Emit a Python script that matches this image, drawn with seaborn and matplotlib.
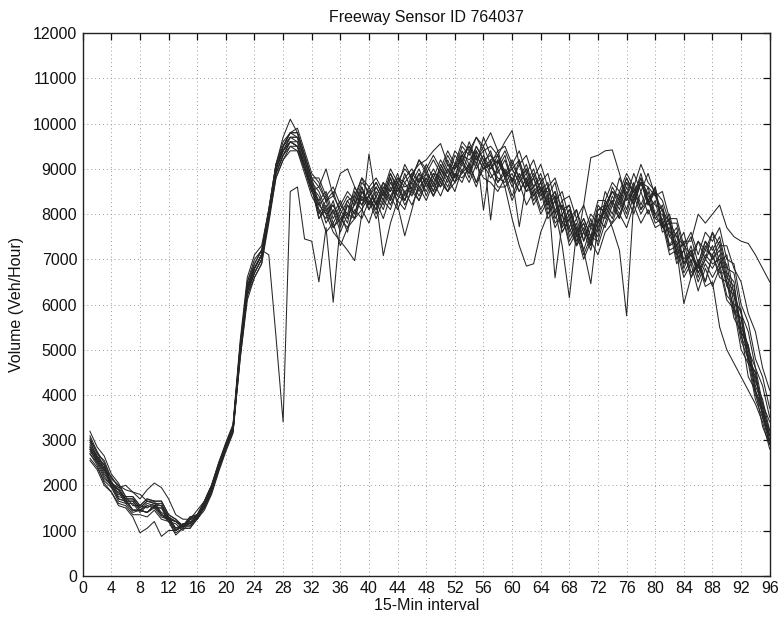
import matplotlib
matplotlib.use("Agg")
import matplotlib.pyplot as plt
import seaborn as sns
import pandas as pd

intervals = list(range(1, 97))

day_a = [3000, 2600, 2450, 2050, 1900, 1700, 1700, 1500,
         1650, 1600, 1550, 1300, 1200, 1100, 1250, 1350,
         1600, 1950, 2450, 2900, 3300, 5100, 6500, 6900,
         7200, 8100, 9100, 9500, 9800, 9800, 9300, 8800,
         8200, 8400, 7900, 8200, 8000, 8600, 8300, 8500,
         8200, 8600, 8500, 8900, 8400, 8900, 8700, 9000,
         8600, 9100, 8800, 9300, 9100, 9600, 9200, 9500,
         9100, 9400, 8900, 9200, 8800, 9100, 8600, 8900,
         8400, 8700, 8000, 8200, 7600, 7900, 7500, 8200,
         8000, 8600, 8300, 8800, 8400, 8900, 8300, 8600,
         7800, 8000, 7300, 7600, 6900, 7400, 7000, 7600,
         6900, 7100, 6200, 5800, 5000, 4600, 3800, 3400]

day_b = [2700, 2450, 2050, 1850, 1550, 1500, 1300, 950,
         1050, 1200, 870, 1000, 1000, 1100, 1150, 1300,
         1500, 1850, 2350, 2800, 3200, 4900, 6300, 6700,
         7000, 7900, 8900, 9300, 9600, 9500, 9000, 8500,
         8300, 7800, 8100, 7600, 8000, 7900, 8400, 8100,
         8400, 8100, 8600, 8300, 8700, 8400, 8800, 8500,
         8900, 8600, 9000, 8700, 9200, 8800, 9300, 9000,
         9200, 8700, 9000, 8600, 8900, 8500, 8800, 8300,
         8600, 7900, 8200, 7500, 7800, 7200, 7700, 7500,
         8200, 7900, 8400, 8000, 8600, 8100, 8500, 7900,
         8100, 7300, 7600, 6800, 7200, 6600, 7000, 6800,
         7100, 6400, 6200, 5300, 4900, 4100, 3700, 3000]

day_c = [3100, 2750, 2500, 2150, 2000, 1900, 1850, 1700,
         1900, 2050, 1950, 1700, 1350, 1250, 1250, 1450,
         1650, 2000, 2500, 2900, 3300, 5000, 6500, 7000,
         7200, 7100, 5300, 3400, 8500, 8600, 7450, 7400,
         6500, 7700, 6050, 7800, 8200, 7900, 8500, 8200,
         8600, 8300, 8800, 8400, 8300, 8800, 8500, 8900,
         8500, 8900, 8600, 9000, 9200, 8900, 9400, 9100,
         9400, 8900, 9200, 8700, 9100, 8600, 8900, 8500,
         8700, 8000, 8300, 7700, 8100, 7400, 7900, 7300,
         7800, 8300, 7900, 8500, 8200, 8700, 8300, 8000,
         8200, 7500, 7700, 6900, 7300, 6700, 7100, 6900,
         7000, 6500, 5900, 5700, 4800, 4400, 3600, 3100]

day_d = [2800, 2500, 2350, 1950, 1850, 1600, 1600, 1400,
         1550, 1500, 1500, 1200, 1150, 1000, 1200, 1250,
         1550, 1900, 2400, 2850, 3200, 5000, 6300, 6700,
         7000, 8000, 9000, 9500, 9800, 9900, 9400, 8900,
         8700, 8300, 8500, 8000, 8300, 8400, 8800, 8400,
         8700, 8400, 8900, 8600, 9100, 8800, 9200, 8900,
         9200, 8900, 9300, 9000, 9500, 9300, 9700, 9400,
         9500, 9300, 9600, 9850, 9100, 9300, 8800, 9100,
         8600, 8800, 8300, 8400, 7900, 8200, 7700, 8300,
         8300, 8700, 8500, 8900, 8600, 9100, 8700, 8500,
         8300, 7800, 7800, 7200, 7500, 6900, 7400, 7200,
         7500, 6800, 6700, 5800, 5400, 4600, 4200, 3500]

day_e = [2600, 2400, 2100, 1950, 1650, 1600, 1400, 1450,
         1400, 1550, 1350, 1250, 1000, 1150, 1150, 1350,
         1500, 1850, 2350, 2800, 3200, 4800, 6200, 6600,
         6900, 7900, 8900, 9300, 9500, 9500, 9100, 8600,
         7900, 8200, 7700, 8000, 7600, 8300, 8100, 8400,
         8000, 8500, 8200, 8600, 8300, 8700, 8400, 8800,
         8400, 8800, 8500, 8900, 8700, 9100, 8700, 9200,
         8900, 8600, 8600, 7900, 7300, 6850, 6900, 7600,
         8000, 8300, 7600, 7900, 7300, 8200, 9250, 9300,
         9400, 9420, 8900, 8300, 8500, 8100, 8300, 7900,
         7800, 7300, 7400, 6900, 7100, 6700, 7000, 7300,
         6800, 6900, 6000, 5900, 4800, 4500, 3700, 3200]

day_f = [2950, 2650, 2450, 2050, 1900, 1650, 1650, 1450,
         1600, 1550, 1550, 1250, 1200, 1100, 1300, 1300,
         1600, 1950, 2450, 2900, 3300, 5100, 6400, 6800,
         7100, 8000, 9000, 9400, 9700, 9700, 9200, 8700,
         8100, 7900, 8300, 7700, 8200, 8000, 8600, 8200,
         8500, 8200, 8700, 8400, 8900, 8500, 8900, 8700,
         9000, 8700, 9100, 8800, 9400, 9100, 9500, 9200,
         9300, 9000, 9300, 8700, 9200, 8600, 8800, 8400,
         8600, 8100, 8200, 7600, 7900, 7400, 7800, 7600,
         8300, 8000, 8500, 8100, 8700, 8200, 8600, 8000,
         7700, 7800, 7100, 7400, 7400, 8000, 7800, 8000,
         8200, 7700, 7500, 7400, 7350, 7100, 6800, 6500]

day_g = [2850, 2650, 2300, 2100, 1800, 1750, 1550, 1550,
         1500, 1600, 1400, 1300, 1050, 1150, 1150, 1350,
         1550, 1900, 2400, 2850, 3250, 5000, 6400, 6800,
         7100, 8000, 9000, 9400, 9700, 9600, 9100, 8600,
         8400, 8000, 8200, 7800, 8300, 8000, 8500, 8300,
         8100, 8500, 8300, 8700, 8500, 8600, 8900, 8400,
         8800, 8600, 9000, 8700, 9100, 8900, 9300, 9000,
         9100, 8800, 8700, 8900, 8500, 8800, 8200, 8500,
         7900, 8100, 7300, 6150, 7600, 7900, 7500, 7800,
         8100, 7700, 7200, 5750, 8300, 8700, 8300, 8500,
         7700, 7900, 7000, 7200, 6600, 7000, 6500, 7100,
         6600, 6500, 5700, 5400, 4400, 4100, 3300, 2900]

day_h = [3050, 2700, 2550, 2150, 2000, 1750, 1750, 1550,
         1700, 1650, 1650, 1350, 1250, 1100, 1300, 1350,
         1650, 2000, 2450, 2900, 3300, 5000, 6400, 6900,
         7200, 8100, 9100, 9600, 9800, 9800, 9300, 8800,
         8600, 8300, 8400, 8100, 8400, 8200, 8700, 8500,
         8700, 8400, 8900, 8500, 8800, 9000, 8700, 9100,
         8800, 9200, 8900, 9400, 9200, 9500, 9100, 9700,
         9300, 9100, 9400, 9000, 9200, 8700, 9000, 8500,
         8500, 6590, 7800, 8100, 7700, 7200, 6460, 7800,
         8200, 8500, 8300, 8700, 8500, 8800, 8200, 8600,
         7700, 7800, 7200, 6020, 6600, 6900, 7400, 7000,
         7200, 6500, 6300, 5400, 5100, 4200, 3800, 3100]

day_i = [2750, 2550, 2200, 2000, 1700, 1650, 1450, 1450,
         1400, 1550, 1350, 1250, 1000, 1100, 1100, 1300,
         1500, 1850, 2350, 2800, 3200, 4900, 6200, 6700,
         7000, 7900, 8900, 9300, 9600, 9500, 9000, 8500,
         8200, 8000, 7600, 7400, 7200, 6970, 8000, 9330,
         8300, 7080, 7800, 8300, 8100, 8600, 8300, 8700,
         8400, 8800, 8500, 8700, 8900, 9100, 8700, 9000,
         9100, 8700, 8900, 8400, 8800, 8500, 8600, 8100,
         8400, 7800, 8000, 7400, 7700, 7100, 7500, 7400,
         8000, 7800, 8300, 7900, 8400, 8000, 8300, 7800,
         7900, 7200, 7300, 6700, 7000, 6500, 6900, 6600,
         6900, 6200, 6000, 5200, 4800, 4000, 3600, 2900]

day_j = [2900, 2600, 2450, 2050, 1950, 1700, 1700, 1500,
         1650, 1600, 1600, 1300, 1200, 1050, 1250, 1300,
         1600, 1950, 2450, 2850, 3250, 5000, 6400, 6800,
         7100, 8000, 9000, 9400, 9600, 9500, 9000, 8500,
         8600, 9000, 8400, 8900, 9000, 8600, 8300, 8400,
         8600, 8300, 8800, 8200, 7520, 8100, 8700, 8900,
         8700, 9000, 8800, 9100, 9300, 9000, 9500, 9200,
         9000, 9300, 8800, 9100, 8800, 9000, 8600, 8800,
         8300, 8500, 8100, 8200, 7600, 7800, 7400, 8100,
         8100, 8500, 8200, 8700, 8300, 8800, 8400, 8200,
         8100, 7600, 7500, 7000, 7200, 6800, 7300, 7000,
         7300, 6600, 6400, 5500, 5100, 4300, 3900, 3200]

day_k = [2800, 2600, 2250, 2050, 1750, 1700, 1450, 1450,
         1400, 1500, 1300, 1250, 1000, 1100, 1100, 1300,
         1500, 1850, 2350, 2800, 3200, 4900, 6300, 6800,
         7100, 8000, 9000, 9500, 9800, 9700, 9200, 8700,
         8000, 8300, 7800, 8100, 7800, 8500, 8200, 8400,
         8100, 8600, 8400, 8700, 8300, 8800, 8600, 8800,
         8500, 9000, 8700, 9100, 8900, 9400, 9000, 9300,
         9000, 9200, 8800, 9000, 8700, 9000, 8500, 8700,
         8200, 8500, 7800, 8100, 7500, 7800, 7300, 8000,
         7900, 8400, 8100, 8600, 8200, 8700, 8200, 8500,
         7700, 7900, 7100, 7400, 6700, 6900, 6400, 6500,
         5500, 5000, 4700, 4400, 4100, 3800, 3400, 2800]

day_l = [3200, 2850, 2650, 2250, 2050, 1750, 1750, 1550,
         1700, 1650, 1650, 1350, 1250, 1100, 1300, 1350,
         1650, 2000, 2500, 2950, 3350, 5200, 6600, 7100,
         7300, 8100, 9100, 9700, 10100, 9800, 9300, 8800,
         8800, 8400, 8600, 8200, 8500, 8300, 8800, 8600,
         8800, 8500, 9000, 8700, 9000, 8800, 9200, 9000,
         9300, 9000, 9400, 9100, 9600, 9400, 9700, 9500,
         9800, 9400, 9500, 9100, 9400, 8900, 9200, 8700,
         8900, 8300, 8500, 7900, 8100, 7600, 8000, 7800,
         8500, 8200, 8800, 8400, 8900, 8500, 8900, 8400,
         8500, 7900, 7900, 7300, 7600, 7100, 7600, 7400,
         7700, 7000, 6900, 6000, 5600, 4800, 4400, 3700]

day_m = [3000, 2750, 2350, 2200, 1950, 2000, 1850, 1800,
         1650, 1650, 1350, 1200, 900, 1050, 1050, 1300,
         1500, 1900, 2400, 2850, 3200, 5000, 6300, 6800,
         7100, 7900, 8800, 9200, 9400, 9400, 9000, 8600,
         7900, 8100, 7700, 7900, 7700, 8100, 7900, 8300,
         7900, 8300, 8100, 8600, 8200, 8500, 8300, 8700,
         8400, 8700, 8500, 8900, 8800, 9000, 8600, 9100,
         8800, 9000, 8600, 8800, 8500, 8800, 8300, 8600,
         8000, 8300, 7600, 7900, 7300, 7600, 7200, 7900,
         7700, 8200, 7900, 8400, 8000, 8500, 8000, 8300,
         7600, 7700, 6900, 7200, 6600, 6900, 6500, 7100,
         6700, 6700, 5800, 5700, 4700, 4500, 3500, 3100]

day_n = [2550, 2350, 2000, 1850, 1600, 1550, 1350, 1350,
         1300, 1450, 1250, 1200, 950, 1050, 1050, 1250,
         1450, 1800, 2300, 2750, 3150, 4800, 6100, 6600,
         6900, 7800, 8800, 9200, 9500, 9400, 8900, 8400,
         8100, 7600, 7800, 7300, 7700, 7900, 8100, 7800,
         8300, 7900, 8400, 8100, 8500, 8200, 8600, 8300,
         8700, 8400, 8800, 8500, 9000, 8700, 9100, 8800,
         8700, 8500, 8800, 8300, 8700, 8200, 8500, 8000,
         8300, 7700, 8000, 7300, 7600, 7000, 7400, 7100,
         7600, 7800, 8000, 7700, 8200, 7800, 8100, 7700,
         7800, 7100, 7200, 6600, 6900, 6300, 6800, 6400,
         6800, 6100, 5900, 5000, 4700, 3900, 3500, 2900]

day_o = [2850, 2550, 2400, 2000, 1900, 1650, 1650, 1450,
         1550, 1500, 1500, 1250, 1200, 1100, 1250, 1250,
         1550, 1900, 2400, 2850, 3250, 5000, 6400, 6800,
         7100, 8000, 9000, 9500, 9700, 9700, 9200, 8700,
         8500, 8100, 8200, 7900, 8000, 8200, 8600, 8100,
         8400, 8700, 8300, 8800, 8600, 8700, 9000, 8600,
         8900, 8800, 9200, 8800, 9300, 9200, 9400, 8090,
         9200, 9300, 8900, 9000, 8700, 8900, 8400, 8700,
         8100, 8400, 7700, 8000, 7400, 7700, 7300, 8100,
         8200, 8500, 8400, 8800, 8500, 8700, 8600, 8400,
         8100, 7800, 7500, 7300, 7100, 7400, 7200, 7600,
         7300, 7300, 6800, 6500, 5800, 5400, 4600, 4100]

day_p = [2700, 2500, 2150, 2000, 1700, 1650, 1450, 1450,
         1400, 1550, 1350, 1300, 1050, 1100, 1200, 1250,
         1550, 1900, 2400, 2850, 3250, 5000, 6300, 6800,
         7100, 8000, 9000, 9400, 9600, 9600, 9100, 8600,
         8300, 8500, 8000, 8300, 7900, 8400, 8200, 8600,
         8200, 8700, 8500, 8800, 8700, 8900, 9100, 9200,
         9400, 9560, 9100, 9000, 9300, 9500, 9200, 9400,
         7870, 9200, 8900, 8800, 7720, 8700, 8400, 8600,
         8200, 8400, 7800, 7700, 7300, 7600, 7400, 7700,
         8100, 8300, 8000, 8400, 8400, 8700, 8300, 8000,
         8000, 7500, 7300, 6900, 7100, 6800, 7200, 7100,
         7400, 6700, 6500, 5400, 5000, 4100, 3600, 3000]

days = {
    "A": day_a, "B": day_b, "C": day_c, "D": day_d, "E": day_e, "F": day_f,
    "G": day_g, "H": day_h, "I": day_i, "J": day_j, "K": day_k, "L": day_l,
    "M": day_m, "N": day_n, "O": day_o, "P": day_p,
}

x_ticks = list(range(0, 97, 4))
y_ticks = list(range(0, 12001, 1000))

frames = [pd.DataFrame({"interval": intervals, "volume": vals, "day": name})
          for name, vals in days.items()]
df = pd.concat(frames, ignore_index=True)

sns.set_theme(style="white")
plt.rcParams["font.family"] = ["Liberation Sans", "DejaVu Sans"]

fig = plt.figure(figsize=(7.79, 6.22), dpi=100)
ax = fig.add_axes([0.1062, 0.0744, 0.8819, 0.8721])

sns.lineplot(data=df, x="interval", y="volume", units="day", estimator=None,
             color="#262626", linewidth=0.75, ax=ax, legend=False)

ax.set_xlim(0, 96)
ax.set_ylim(0, 12000)
ax.set_xticks(x_ticks)
ax.set_yticks(y_ticks)
ax.set_xticklabels([str(t) for t in x_ticks])
ax.set_yticklabels([str(t) for t in y_ticks])

ax.grid(True, linestyle=(0, (1, 3)), color="#9a9a9a", linewidth=0.7)
ax.set_axisbelow(True)
for s in ax.spines.values():
    s.set_visible(True)
    s.set_color("#222222")
    s.set_linewidth(1.0)

ax.tick_params(axis="both", which="major", direction="in", length=5, width=0.9,
               top=True, right=True, labelsize=11.5, colors="#111111", pad=4)

ax.set_title("Freeway Sensor ID 764037", fontsize=11.5, pad=8, color="#111111")
ax.set_xlabel("15-Min interval", fontsize=11.5, labelpad=1, color="#111111")
ax.set_ylabel("Volume (Veh/Hour)", fontsize=11.5, labelpad=6, color="#111111")

fig.savefig("out.png", dpi=100, facecolor="white")
